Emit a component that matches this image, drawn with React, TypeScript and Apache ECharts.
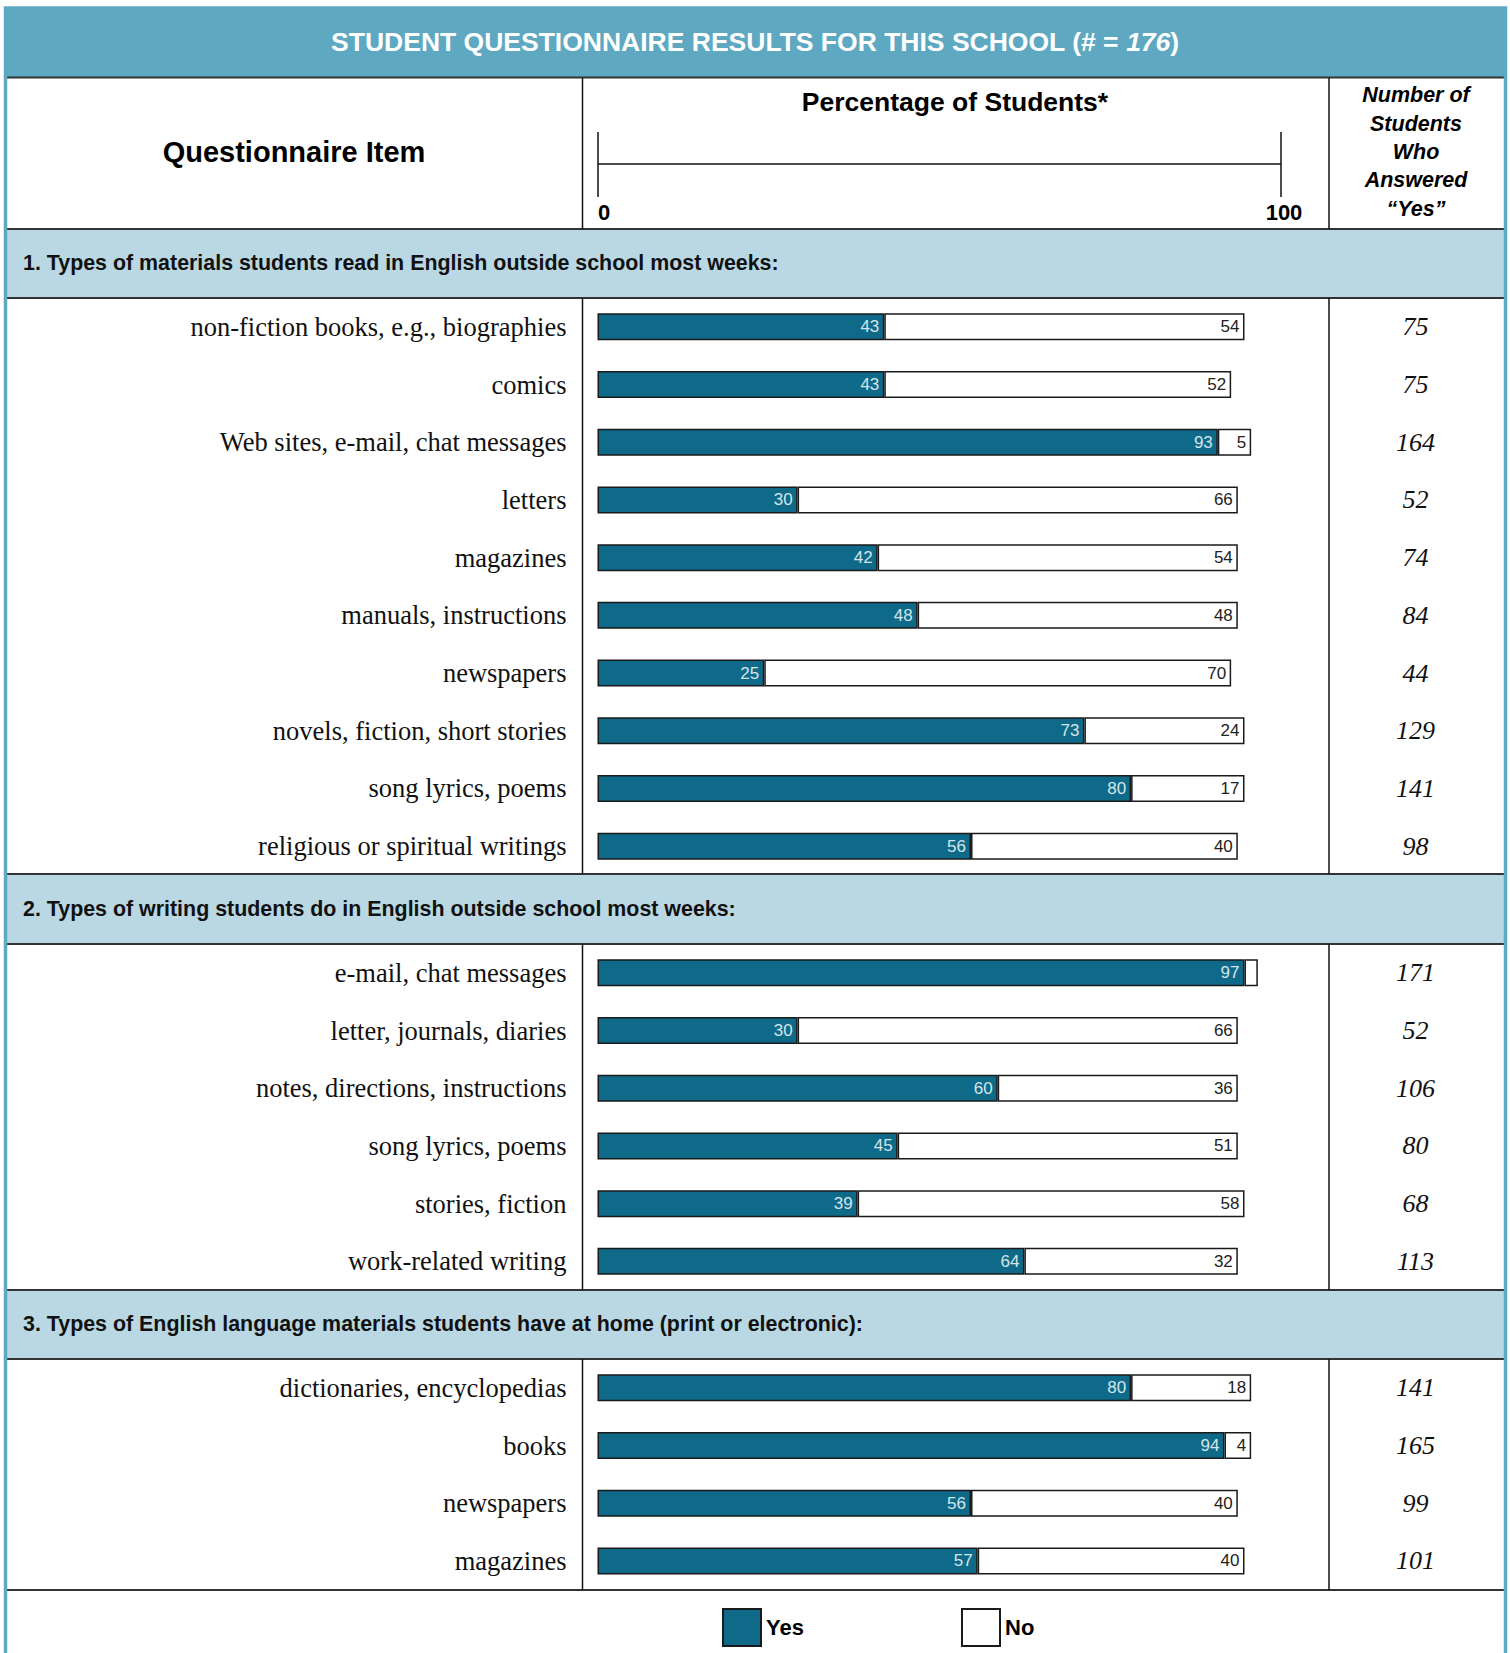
import React, { useEffect, useRef } from "react";
import * as echarts from "echarts";

const title = "STUDENT QUESTIONNAIRE RESULTS FOR THIS SCHOOL (# = ";
const titleN = "176";
const sectionTitles = [
  "1. Types of materials students read in English outside school most weeks:",
  "2. Types of writing students do in English outside school most weeks:",
  "3. Types of English language materials students have at home (print or electronic):",
];

const sec1Items = [
  "non-fiction books, e.g., biographies",
  "comics",
  "Web sites, e-mail, chat messages",
  "letters",
  "magazines",
  "manuals, instructions",
  "newspapers",
  "novels, fiction, short stories",
  "song lyrics, poems",
  "religious or spiritual writings",
];
const sec1Yes = [43, 43, 93, 30, 42, 48, 25, 73, 80, 56];
const sec1No = [54, 52, 5, 66, 54, 48, 70, 24, 17, 40];
const sec1Count = [75, 75, 164, 52, 74, 84, 44, 129, 141, 98];

const sec2Items = [
  "e-mail, chat messages",
  "letter, journals, diaries",
  "notes, directions, instructions",
  "song lyrics, poems",
  "stories, fiction",
  "work-related writing",
];
const sec2Yes = [97, 30, 60, 45, 39, 64];
const sec2No = [2, 66, 36, 51, 58, 32];
const sec2Count = [171, 52, 106, 80, 68, 113];

const sec3Items = [
  "dictionaries, encyclopedias",
  "books",
  "newspapers",
  "magazines",
];
const sec3Yes = [80, 94, 56, 57];
const sec3No = [18, 4, 40, 40];
const sec3Count = [141, 165, 99, 101];

const axisTicks = ["0", "100"];
const legendNames = ["Yes", "No"];

const TEAL = "#5ea9c1";
const BAND = "#b9d8e3";
const BAR = "#0e6a88";
const LINE = "#333333";
const SANS = "'Liberation Sans', Arial, Helvetica, sans-serif";
const SERIF = "'Liberation Serif', 'Times New Roman', serif";
const NARROW = "'Liberation Sans Narrow', 'Arial Narrow', 'Liberation Sans', Arial, sans-serif";

const sections = [
  { items: sec1Items, yes: sec1Yes, no: sec1No, count: sec1Count },
  { items: sec2Items, yes: sec2Yes, no: sec2No, count: sec2Count },
  { items: sec3Items, yes: sec3Yes, no: sec3No, count: sec3Count },
];

const PITCH = 57.7;
const gridTops = [298, 944, 1359];
const GRID_LEFT = 597.5;
const GRID_W = 667;

export default function App() {
  const ref = useRef<HTMLDivElement>(null);
  useEffect(() => {
    document.body.style.margin = "0";
    document.body.style.background = "#ffffff";
    const chart = echarts.init(ref.current!, null, { renderer: "svg" });

    const grids: any[] = [];
    const xAxes: any[] = [];
    const yAxes: any[] = [];
    const series: any[] = [];

    sections.forEach((s, i) => {
      grids.push({
        left: GRID_LEFT,
        top: gridTops[i],
        width: GRID_W,
        height: PITCH * s.items.length,
      });
      xAxes.push({
        gridIndex: i,
        type: "value",
        min: 0,
        max: 100,
        show: false,
      });
      yAxes.push({
        gridIndex: i,
        type: "category",
        data: s.items,
        inverse: true,
        position: "left",
        axisLine: { show: false },
        axisTick: { show: false },
        splitLine: { show: false },
        axisLabel: {
          margin: 31,
          fontFamily: SERIF,
          fontSize: 26.5,
          color: "#111",
        },
      });
      yAxes.push({
        gridIndex: i,
        type: "category",
        data: s.count.map(String),
        inverse: true,
        position: "right",
        axisLine: { show: false },
        axisTick: { show: false },
        splitLine: { show: false },
        axisLabel: {
          margin: 151,
          align: "center",
          fontFamily: SERIF,
          fontStyle: "italic",
          fontSize: 26,
          color: "#111",
        },
      });
      series.push({
        type: "bar",
        name: legendNames[0],
        xAxisIndex: i,
        yAxisIndex: i * 2,
        stack: "s" + i,
        barWidth: 27,
        data: s.yes,
        itemStyle: { color: BAR, borderColor: "#1a1a1a", borderWidth: 1.5 },
        label: {
          show: true,
          position: "insideRight",
          distance: 5,
          color: "#d5e5ec",
          fontFamily: NARROW,
          fontSize: 17,
        },
      });
      series.push({
        type: "bar",
        name: legendNames[1],
        xAxisIndex: i,
        yAxisIndex: i * 2,
        stack: "s" + i,
        barWidth: 27,
        data: s.no.map((v) => ({
          value: v,
          label: { show: v >= 3 },
        })),
        itemStyle: { color: "#ffffff", borderColor: "#1a1a1a", borderWidth: 1.5 },
        label: {
          show: true,
          position: "insideRight",
          distance: 5,
          color: "#222",
          fontFamily: NARROW,
          fontSize: 17,
        },
      });
    });

    const hline = (y: number, w = 2) => ({
      type: "line",
      shape: { x1: 7, y1: y, x2: 1504, y2: y },
      style: { stroke: LINE, lineWidth: w },
      z: 10,
    });
    const vline = (x: number, y1: number, y2: number) => ({
      type: "line",
      shape: { x1: x, y1, x2: x, y2 },
      style: { stroke: "#111", lineWidth: 1.5 },
      z: 10,
    });

    const bands = [
      [229, 298],
      [874, 944],
      [1290, 1359],
    ];
    const bandMid = [263, 909, 1324];

    const graphic: any[] = [
      {
        type: "rect",
        shape: { x: 5, y: 8, width: 1501, height: 70 },
        style: { fill: TEAL },
        z: 1,
      },
      {
        type: "rect",
        shape: { x: 5.5, y: 8, width: 1500, height: 1700 },
        style: { fill: "none", stroke: TEAL, lineWidth: 3.5 },
        z: 12,
      },
      ...bands.map((b) => ({
        type: "rect",
        shape: { x: 7, y: b[0], width: 1497, height: b[1] - b[0] },
        style: { fill: BAND },
        z: 1,
      })),
      hline(77.5),
      hline(229),
      hline(298),
      hline(874),
      hline(944),
      hline(1290),
      hline(1359),
      hline(1590),
      vline(582.5, 78, 229),
      vline(1329, 78, 229),
      vline(582.5, 298, 874),
      vline(1329, 298, 874),
      vline(582.5, 944, 1290),
      vline(1329, 944, 1290),
      vline(582.5, 1359, 1590),
      vline(1329, 1359, 1590),
      {
        type: "text",
        x: 755,
        y: 42,
        style: {
          text: "{a|" + title + "}{b|" + titleN + "}{a|)}",
          align: "center",
          verticalAlign: "middle",
          rich: {
            a: { fontFamily: SANS, fontWeight: "bold", fontSize: 26.5, fill: "#ffffff" },
            b: {
              fontFamily: SANS,
              fontWeight: "bold",
              fontStyle: "italic",
              fontSize: 26.5,
              fill: "#ffffff",
            },
          },
        },
        z: 13,
      },
      {
        type: "text",
        x: 294,
        y: 152,
        style: {
          text: "Questionnaire Item",
          align: "center",
          verticalAlign: "middle",
          fontFamily: SANS,
          fontWeight: "bold",
          fontSize: 29,
          fill: "#000",
        },
        z: 13,
      },
      {
        type: "text",
        x: 955,
        y: 102,
        style: {
          text: "Percentage of Students*",
          align: "center",
          verticalAlign: "middle",
          fontFamily: SANS,
          fontWeight: "bold",
          fontSize: 26.5,
          fill: "#000",
        },
        z: 13,
      },
      {
        type: "text",
        x: 1416,
        y: 152,
        style: {
          text: "Number of\nStudents\nWho\nAnswered\n\u201cYes\u201d",
          align: "center",
          verticalAlign: "middle",
          lineHeight: 28.3,
          fontFamily: SANS,
          fontWeight: "bold",
          fontStyle: "italic",
          fontSize: 21.5,
          fill: "#000",
        },
        z: 13,
      },
      {
        type: "line",
        shape: { x1: 598, y1: 164, x2: 1281, y2: 164 },
        style: { stroke: "#111", lineWidth: 1.5 },
        z: 13,
      },
      {
        type: "line",
        shape: { x1: 598, y1: 132, x2: 598, y2: 197 },
        style: { stroke: "#111", lineWidth: 1.5 },
        z: 13,
      },
      {
        type: "line",
        shape: { x1: 1281, y1: 132, x2: 1281, y2: 197 },
        style: { stroke: "#111", lineWidth: 1.5 },
        z: 13,
      },
      {
        type: "text",
        x: 604,
        y: 212,
        style: {
          text: axisTicks[0],
          align: "center",
          verticalAlign: "middle",
          fontFamily: SANS,
          fontWeight: "bold",
          fontSize: 22,
          fill: "#000",
        },
        z: 13,
      },
      {
        type: "text",
        x: 1284,
        y: 212,
        style: {
          text: axisTicks[1],
          align: "center",
          verticalAlign: "middle",
          fontFamily: SANS,
          fontWeight: "bold",
          fontSize: 22,
          fill: "#000",
        },
        z: 13,
      },
      ...sectionTitles.map((t, i) => ({
        type: "text",
        x: 23,
        y: bandMid[i],
        style: {
          text: t,
          align: "left",
          verticalAlign: "middle",
          fontFamily: SANS,
          fontWeight: "bold",
          fontSize: 21.4,
          fill: "#111",
        },
        z: 13,
      })),
    ];

    const legendBase = {
      top: 1608,
      padding: 0,
      itemWidth: 38,
      itemHeight: 37,
      itemGap: 8,
      icon: "rect",
      selectedMode: false,
      textStyle: {
        fontFamily: SANS,
        fontWeight: "bold",
        fontSize: 22,
        color: "#000",
      },
    };

    chart.setOption({
      animation: false,
      backgroundColor: "#ffffff",
      grid: grids,
      xAxis: xAxes,
      yAxis: yAxes,
      series,
      legend: [
        { ...legendBase, data: [legendNames[0]], left: 722 },
        { ...legendBase, data: [legendNames[1]], left: 961 },
      ],
      graphic,
    });
    return () => chart.dispose();
  }, []);
  return (
    <div
      ref={ref}
      style={{ position: "absolute", left: 0, top: 0, width: 1510, height: 1653 }}
    />
  );
}
